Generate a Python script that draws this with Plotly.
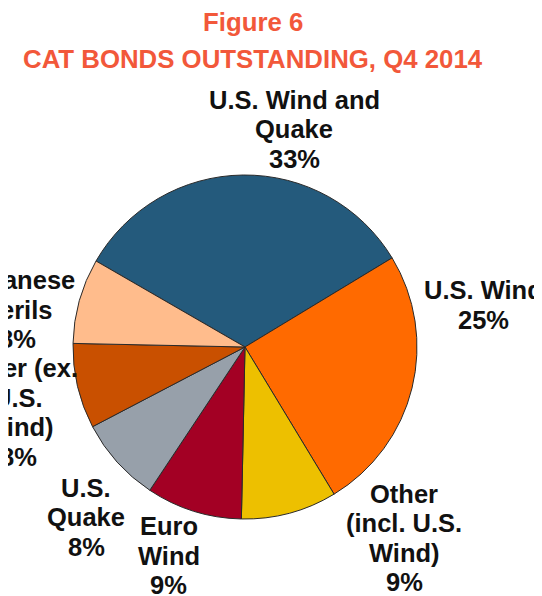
import plotly.graph_objects as go

labels = ["U.S. Wind and<br>Quake", "U.S. Wind", "Other<br>(incl. U.S.<br>Wind)", "Euro<br>Wind",
          "U.S.<br>Quake", "Other (ex.<br>U.S.<br>Wind)", "Japanese<br>Perils"]
values = [33, 25, 9, 9, 8, 8, 8]
colors = ["#245A7C", "#FF6A00", "#EDC000", "#A30024", "#97A0AA", "#C95000", "#FFBC8C"]
title_lines = ["Figure 6", "CAT BONDS OUTSTANDING, Q4 2014"]

# label placement in pixels: (centre x, first-line centre y from top) -- layout only
label_pos = [(286, 100), (475, 290), (396, 493.5), (161, 526), (78, 487.5), (10, 368), (9, 280)]
LINE_GAP = 29.5
TEXT_DY = 8  # annotation box centre sits below cap middle

W, H = 542, 596
FONT = "Liberation Sans, Arial, sans-serif"

fig = go.Figure(go.Pie(
    labels=labels, values=values, sort=False, direction="clockwise", rotation=-60,
    marker=dict(colors=colors, line=dict(color="#2a2a2a", width=1)),
    textinfo="none",
    domain=dict(x=[0.1199, 0.7546], y=[0.1426, 0.7198]),
    showlegend=False, hoverinfo="skip",
))

annotations = []
for lab, val, (px, py) in zip(labels, values, label_pos):
    lines = lab.split("<br>") + [f"{val}%"]
    for i, ln in enumerate(lines):
        yy = py + i * LINE_GAP - TEXT_DY
        annotations.append(dict(
            text=f"<b>{ln}</b>", x=px / W, y=1 - yy / H, xref="paper", yref="paper",
            xanchor="center", yanchor="middle", showarrow=False, align="center",
            font=dict(family=FONT, size=25.5, color="#111111"),
        ))
for txt, py in zip(title_lines, [22, 58.5]):
    annotations.append(dict(
        text=f"<b>{txt}</b>", x=245 / W, y=1 - (py - TEXT_DY) / H, xref="paper", yref="paper",
        xanchor="center", yanchor="middle", showarrow=False,
        font=dict(family=FONT, size=25.8, color="#F2583A"),
    ))

fig.update_layout(
    width=W, height=H, margin=dict(l=0, r=0, t=0, b=0),
    paper_bgcolor="white", plot_bgcolor="white",
    annotations=annotations,
)
fig.write_html("out.html")
